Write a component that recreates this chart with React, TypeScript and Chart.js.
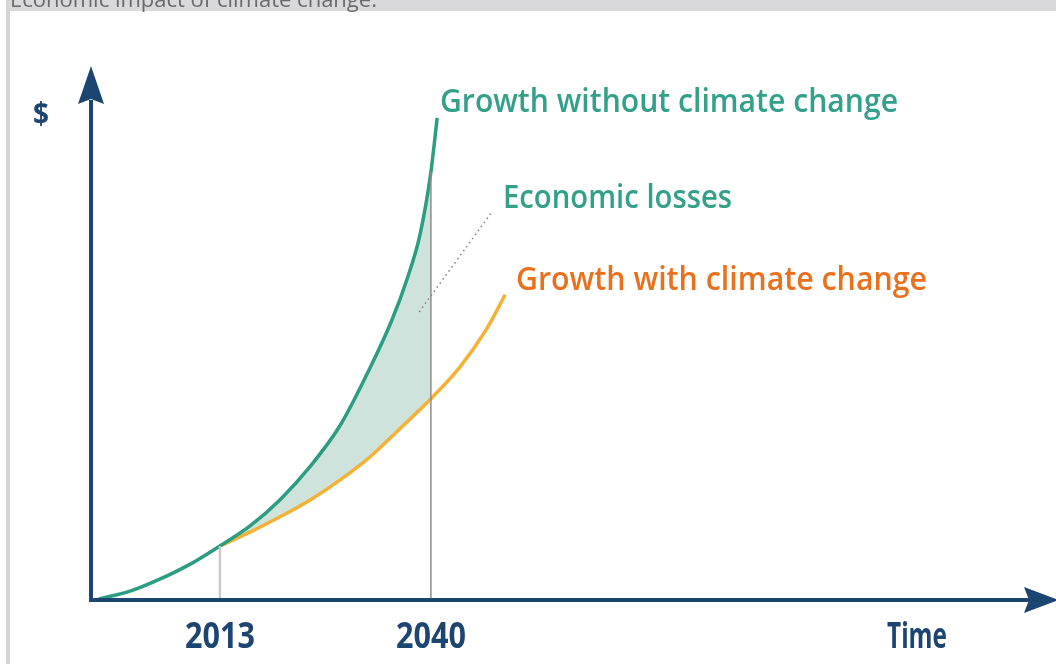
import React, { useEffect, useRef } from "react";
import { Chart, registerables } from "chart.js";

Chart.register(...registerables);

// ---- data ----
const GREEN_YEARS = [1997.5, 2001.5, 2005.3, 2009.2, 2013, 2016.9, 2020.7, 2024.5, 2028.4, 2032.2, 2035.0, 2036.9, 2038.6, 2040, 2040.8];
const GREEN_VALUES = [0.2, 1.7, 4.0, 6.9, 10.4, 14.3, 19.3, 25.6, 33.6, 44.6, 53.8, 61.5, 70.2, 82.3, 92.7];
const ORANGE_YEARS = [2013, 2016.9, 2020.7, 2024.5, 2028.4, 2032.2, 2036.0, 2040, 2043.7, 2047.2, 2049.5];
const ORANGE_VALUES = [10.4, 13.1, 16.0, 19.2, 23.1, 27.5, 32.9, 38.7, 44.8, 52.3, 58.7];
const TICK_YEARS = [2013, 2040];
const TICK_LABELS = ["2013", "2040"];
const LOSS_START = 2013;
const LOSS_END = 2040;
const X_MIN = 1996.5;
const X_MAX = 2120;
const Y_MIN = 0;
const Y_MAX = 100;

const TITLE = "Economic impact of climate change.";
const Y_LABEL = "$";
const X_LABEL = "Time";
const LABEL_NO_CC = "Growth without climate change";
const LABEL_LOSSES = "Economic losses";
const LABEL_CC = "Growth with climate change";

const NAVY = "#1d4571";
const TEAL = "#2a9d82";
const TEAL_TEXT = "#33a08a";
const ORANGE_LINE = "#f5b133";
const ORANGE_TEXT = "#e9711d";
const FILL = "#cfe3dc";

const pts = (xs: number[], ys: number[]) => xs.map((x, i) => ({ x, y: ys[i] }));
const valueAt = (xs: number[], ys: number[], yr: number) => ys[xs.indexOf(yr)];

function text(ctx: CanvasRenderingContext2D, s: string, x: number, y: number, font: string, color: string, maxW: number, align: CanvasTextAlign = "left") {
  ctx.save();
  ctx.font = font;
  ctx.fillStyle = color;
  ctx.textAlign = align;
  ctx.textBaseline = "alphabetic";
  const w = ctx.measureText(s).width;
  if (w > maxW) ctx.fillText(s, x, y, maxW);
  else ctx.fillText(s, x, y);
  ctx.restore();
}

const decorPlugin = {
  id: "decor",
  beforeDraw(chart: any) {
    const ctx = chart.ctx as CanvasRenderingContext2D;
    ctx.save();
    ctx.fillStyle = "#ffffff";
    ctx.fillRect(0, 0, chart.width, chart.height);
    ctx.fillStyle = "#d9d9db";
    ctx.fillRect(6, 0, chart.width - 6, 11);
    ctx.fillStyle = "#d6d6d8";
    ctx.fillRect(6, 0, 4, chart.height);
    ctx.restore();
    text(ctx, TITLE, 10, 7, "22px 'Open Sans', sans-serif", "#6a6a6a", 378);
  },
  beforeDatasetsDraw(chart: any) {
    // shaded "economic losses" band between the two curves, 2013..2040
    const ctx = chart.ctx as CanvasRenderingContext2D;
    const xs = chart.scales.x;
    const area = chart.chartArea;
    const green = chart.getDatasetMeta(0).dataset;
    const orange = chart.getDatasetMeta(1).dataset;
    const gp = green.points;
    const op = orange.points;
    const xa = xs.getPixelForValue(LOSS_START);
    const xb = xs.getPixelForValue(LOSS_END);
    ctx.save();
    ctx.beginPath();
    ctx.rect(xa, area.top - 50, xb - xa, area.bottom - area.top + 50);
    ctx.clip();
    ctx.beginPath();
    orange.path(ctx);
    ctx.lineTo(op[op.length - 1].x, area.top - 50);
    ctx.lineTo(op[0].x, area.top - 50);
    ctx.closePath();
    ctx.clip();
    ctx.beginPath();
    green.path(ctx);
    ctx.lineTo(gp[gp.length - 1].x, area.bottom);
    ctx.lineTo(gp[0].x, area.bottom);
    ctx.closePath();
    ctx.fillStyle = FILL;
    ctx.fill();
    ctx.restore();
  },
  afterDatasetsDraw(chart: any) {
    const ctx = chart.ctx as CanvasRenderingContext2D;
    const xs = chart.scales.x;
    const ys = chart.scales.y;
    const x0 = xs.getPixelForValue(X_MIN);
    const y0 = ys.getPixelForValue(Y_MIN);

    // reference verticals
    ctx.save();
    const x13 = xs.getPixelForValue(LOSS_START);
    ctx.strokeStyle = "#c9c9c9";
    ctx.lineWidth = 2.5;
    ctx.beginPath();
    ctx.moveTo(x13, ys.getPixelForValue(valueAt(GREEN_YEARS, GREEN_VALUES, LOSS_START)));
    ctx.lineTo(x13, y0);
    ctx.stroke();
    const x40 = xs.getPixelForValue(LOSS_END);
    ctx.strokeStyle = "#8c8c8c";
    ctx.lineWidth = 1.5;
    ctx.beginPath();
    ctx.moveTo(x40, ys.getPixelForValue(valueAt(GREEN_YEARS, GREEN_VALUES, LOSS_END)));
    ctx.lineTo(x40, y0);
    ctx.stroke();

    // dotted leader
    ctx.strokeStyle = "#8a8a8a";
    ctx.lineWidth = 1.6;
    ctx.setLineDash([1.6, 3.4]);
    ctx.beginPath();
    ctx.moveTo(xs.getPixelForValue(2038.5), ys.getPixelForValue(55.4));
    ctx.lineTo(xs.getPixelForValue(2047.8), ys.getPixelForValue(74.6));
    ctx.stroke();
    ctx.setLineDash([]);

    // axes
    ctx.strokeStyle = NAVY;
    ctx.fillStyle = NAVY;
    ctx.lineWidth = 4;
    ctx.lineCap = "butt";
    ctx.beginPath();
    ctx.moveTo(x0, y0 + 2);
    ctx.lineTo(x0, 100);
    ctx.stroke();
    ctx.beginPath();
    ctx.moveTo(x0 - 2, y0);
    ctx.lineTo(1030, y0);
    ctx.stroke();
    // y arrow
    ctx.beginPath();
    ctx.moveTo(x0, 66);
    ctx.lineTo(x0 + 13, 104);
    ctx.lineTo(x0, 99);
    ctx.lineTo(x0 - 13, 104);
    ctx.closePath();
    ctx.fill();
    // x arrow
    ctx.beginPath();
    ctx.moveTo(1059, y0);
    ctx.lineTo(1024, y0 - 13);
    ctx.lineTo(1029, y0);
    ctx.lineTo(1024, y0 + 13);
    ctx.closePath();
    ctx.fill();
    ctx.restore();

    // tick labels
    const tickFont = "bold 35px 'Open Sans', sans-serif";
    TICK_YEARS.forEach((yr, i) => {
      text(ctx, TICK_LABELS[i], xs.getPixelForValue(yr), 648, tickFont, NAVY, 70, "center");
    });
    text(ctx, X_LABEL, 917, 648, tickFont, NAVY, 60, "center");
    text(ctx, Y_LABEL, 41, 124, "bold 30px 'Open Sans', sans-serif", NAVY, 16, "center");

    // annotations
    const lf = "600 32px 'Open Sans', sans-serif";
    text(ctx, LABEL_NO_CC, 440, 112, lf, TEAL_TEXT, 458);
    text(ctx, LABEL_LOSSES, 503, 208, lf, TEAL_TEXT, 229);
    text(ctx, LABEL_CC, 516, 290, lf, ORANGE_TEXT, 411);
  },
};

export default function App() {
  const ref = useRef<HTMLCanvasElement | null>(null);
  useEffect(() => {
    if (!ref.current) return;
    const chart = new Chart(ref.current, {
      type: "line",
      data: {
        datasets: [
          {
            label: "Growth without climate change",
            data: pts(GREEN_YEARS, GREEN_VALUES),
            borderColor: TEAL,
            borderWidth: 3.5,
            pointRadius: 0,
            fill: false,
            cubicInterpolationMode: "monotone",
            order: 0,
          },
          {
            label: "Growth with climate change",
            data: pts(ORANGE_YEARS, ORANGE_VALUES),
            borderColor: ORANGE_LINE,
            borderWidth: 3.5,
            pointRadius: 0,
            fill: false,
            cubicInterpolationMode: "monotone",
            order: 1,
          },
        ],
      },
      options: {
        responsive: false,
        maintainAspectRatio: false,
        animation: false,
        layout: { padding: { left: 91, right: 0, top: 80, bottom: 64 } },
        scales: {
          x: { type: "linear", min: X_MIN, max: X_MAX, display: false },
          y: { type: "linear", min: Y_MIN, max: Y_MAX, display: false },
        },
        plugins: {
          legend: { display: false },
          tooltip: { enabled: false },
          title: { display: false },
        },
      },
      plugins: [decorPlugin],
    } as any);
    return () => chart.destroy();
  }, []);
  return (
    <div style={{ position: "fixed", left: 0, top: 0, width: 1056, height: 664, background: "#fff" }}>
      <canvas ref={ref} width={1056} height={664} style={{ display: "block", width: 1056, height: 664 }} />
    </div>
  );
}
